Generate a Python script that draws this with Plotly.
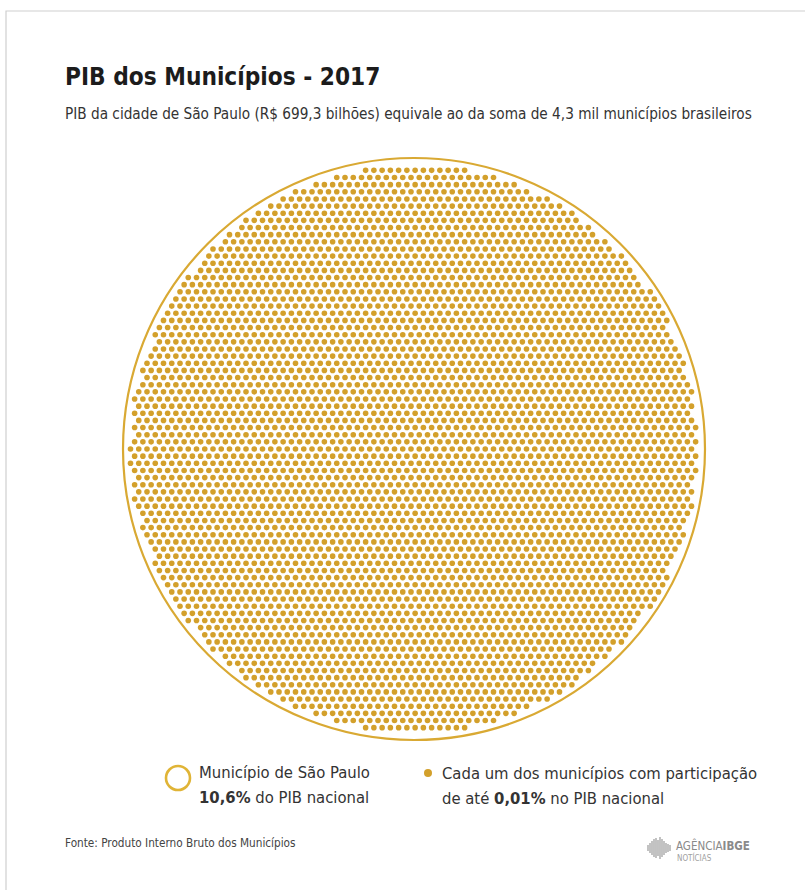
import numpy as np
import plotly.graph_objects as go

# ---- data ----
n_municipios = 4300          # municípios whose summed GDP equals São Paulo's
pib_sp_bilhoes = 699.3
share_sp = "10,6%"
share_each = "0,01%"

title = "PIB dos Municípios - 2017"
subtitle = "PIB da cidade de São Paulo (R$ 699,3 bilhões) equivale ao da soma de 4,3 mil municípios brasileiros"
legend_sp = ["Município de São Paulo", "<b>10,6%</b> do PIB nacional"]
legend_each = ["Cada um dos municípios com participação", "de até <b>0,01%</b> no PIB nacional"]
source = "Fonte: Produto Interno Bruto dos Municípios"

W, H = 805, 890
GOLD = "#D3A02B"
RING = "#D9A933"
FONT = "DejaVu Sans Condensed, Roboto, sans-serif"

# ---- layout geometry (pixels -> data units, circle radius = 1) ----
cx_px, cy_px, r_px = 414, 449, 291
xr = [-cx_px / r_px, (W - cx_px) / r_px]
yr = [-(H - cy_px) / r_px, cy_px / r_px]

# hexagonal packing of one dot per municipality, nearest to centre
s = 8.25 / r_px
dy = s * np.sqrt(3) / 2
pts = []
for j in range(-45, 46):
    off = (s / 2) if j % 2 else 0.0
    for i in range(-45, 46):
        pts.append((i * s + off - 3.0 / r_px, j * dy))
pts = np.array(pts)
d = np.hypot(pts[:, 0], pts[:, 1])
order = np.argsort(d, kind="stable")[:n_municipios]
dots = pts[order]

fig = go.Figure()
fig.add_trace(go.Scatter(
    x=dots[:, 0], y=dots[:, 1], mode="markers",
    marker=dict(size=5.6, color=GOLD, line=dict(width=0)),
    hoverinfo="skip", showlegend=False))

def px(x):
    return x / W

def py(y):
    return 1 - y / H

shapes = [
    dict(type="rect", xref="paper", yref="paper", x0=px(6), x1=px(W + 20), y0=py(11), y1=py(H + 20),
         line=dict(color="#cfcfcf", width=1.2), fillcolor="rgba(0,0,0,0)", layer="below"),
    dict(type="circle", xref="x", yref="y", x0=-1, x1=1, y0=-1, y1=1,
         line=dict(color=RING, width=2.2)),
    dict(type="circle", xref="paper", yref="paper", x0=px(166), x1=px(190), y0=py(766), y1=py(790),
         line=dict(color="#E0B436", width=2.6)),
    dict(type="circle", xref="paper", yref="paper", x0=px(424), x1=px(432), y0=py(769), y1=py(777),
         line=dict(width=0), fillcolor=GOLD),
]

bar_h = [6, 10, 14, 18, 20, 16, 22, 18, 14, 10, 8, 6]
for k, h in enumerate(bar_h):
    x = 648 + k * 2
    shapes.append(dict(type="line", xref="paper", yref="paper", x0=px(x), x1=px(x),
                       y0=py(848 - h / 2), y1=py(848 + h / 2), line=dict(color="#9a9a9a", width=1.2)))

ann = []
def text(x, y, t, size, color="#222", bold=False, family=FONT):
    ann.append(dict(xref="paper", yref="paper", x=px(x), y=py(y), text=t, showarrow=False,
                    xanchor="left", yanchor="middle", align="left",
                    font=dict(family=family, size=size, color=color, weight="bold" if bold else "normal")))

text(63, 77, title, 24.2, "#1c1c1c", bold=True)
text(63, 114, subtitle, 15.2, "#333")
text(197, 772, legend_sp[0], 16.5, "#333")
text(197, 797, legend_sp[1], 16.5, "#333")
text(440, 773, legend_each[0], 16.5, "#333")
text(440, 798, legend_each[1], 16.5, "#333")
text(63, 843, source, 11.7, "#444")
text(674, 845, "AGÊNCIA<b>IBGE</b>", 11.5, "#8a8a8a")
text(675, 857, "NOTÍCIAS", 8, "#a0a0a0")

fig.update_layout(
    width=W, height=H, margin=dict(l=0, r=0, t=0, b=0),
    paper_bgcolor="white", plot_bgcolor="white",
    xaxis=dict(range=xr, visible=False, fixedrange=True),
    yaxis=dict(range=yr, visible=False, fixedrange=True),
    shapes=shapes, annotations=ann, showlegend=False,
)
fig.write_html("out.html")
